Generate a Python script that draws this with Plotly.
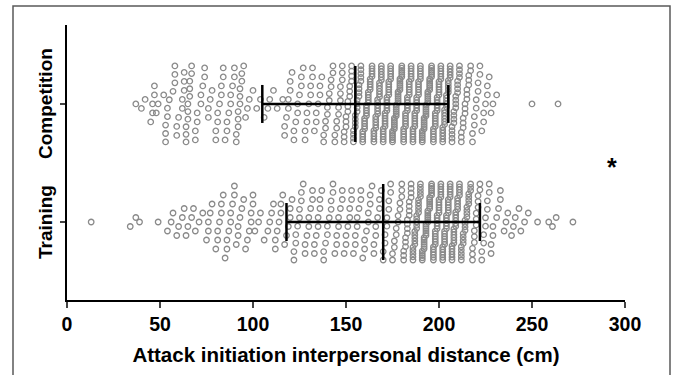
import plotly.graph_objects as go

# ---------------- data ----------------
group_names = ["Training", "Competition"]

# Competition: distance value (cm) and number of attacks at that value
comp_cm = [37, 40, 42, 45, 46, 47, 48, 49, 52, 53, 54, 55, 57, 58, 59, 60,
           62, 63, 64, 65, 66, 67, 69, 70, 72, 73, 74, 76, 77, 78,
           80, 81, 82, 83, 84, 85, 86, 87, 88, 89, 90, 91, 92, 93, 94, 95, 96, 97, 98, 100,
           102, 104, 106, 108, 109, 111, 113, 116, 117, 118, 119, 120, 121, 122, 123, 124, 125,
           126, 127, 128, 129, 130, 131, 132, 133, 134, 135, 136, 137, 138, 139, 140, 141, 142, 143,
           144, 145, 146, 147, 148, 149, 150, 151, 152, 153, 154, 155,
           156, 157, 158, 159, 160, 161, 162, 163, 164, 165,
           166, 167, 168, 169, 170, 171, 172, 173, 174, 175,
           176, 177, 178, 179, 180, 181, 182, 183, 184, 185,
           186, 187, 188, 189, 190, 191, 192, 193, 194, 195,
           196, 197, 198, 199, 200, 201, 202, 203, 204, 205,
           206, 207, 208, 209, 210, 211, 212, 213, 214, 215, 216, 217, 218, 219, 220,
           221, 222, 223, 224, 225, 226, 227, 228, 229, 231, 250, 264]
comp_n = [1, 1, 1, 1, 2, 2, 1, 1, 1, 3, 2, 1, 1, 3, 2, 1,
          2, 3, 3, 3, 3, 2, 2, 2, 2, 1, 2, 2, 1, 1,
          2, 2, 1, 2, 2, 1, 2, 1, 2, 1, 2, 2, 3, 3, 2, 1, 1, 1, 1, 1,
          1, 1, 1, 1, 1, 1, 1, 1, 2, 1, 2, 2, 1, 2, 1, 2, 1,
          2, 1, 2, 2, 1, 2, 2, 1, 2, 1, 2, 1, 2, 2, 2, 2, 2, 2,
          2, 2, 2, 3, 3, 3, 3, 3, 3, 4, 4, 4,
          4, 4, 5, 5, 5, 5, 5, 5, 5, 5,
          5, 6, 6, 6, 6, 6, 6, 6, 6, 6,
          6, 6, 6, 6, 6, 6, 6, 6, 6, 6,
          6, 6, 6, 6, 6, 6, 6, 6, 6, 6,
          6, 6, 6, 6, 6, 6, 6, 6, 5, 5,
          5, 5, 4, 4, 4, 4, 3, 3, 3, 3, 3, 2, 2, 2, 2,
          2, 2, 1, 2, 1, 2, 1, 1, 1, 1, 1, 1]

# Training
train_cm = [13, 34, 37, 39, 49, 54, 56, 57, 59, 60, 62, 63, 64, 65, 67, 68, 69,
            71, 73, 75, 76, 77, 78, 80, 81, 82, 83, 84, 85, 86, 87, 88, 89,
            90, 91, 92, 93, 94, 95, 96, 97, 98, 99, 100, 101, 103, 104, 106, 108, 109,
            110, 111, 112, 113, 114, 115, 116, 117, 118, 119,
            120, 121, 122, 123, 124, 125, 126, 127, 128, 129,
            130, 131, 132, 133, 134, 135, 136, 137, 138, 139,
            140, 141, 142, 143, 144, 145, 146, 147, 148, 149,
            150, 151, 152, 153, 154, 155, 156, 157, 158, 159,
            160, 161, 162, 163, 164, 165, 166, 167, 168, 169,
            170, 171, 172, 173, 174, 175, 176, 177, 178, 179,
            180, 181, 182, 183, 184, 185, 186, 187, 188, 189,
            190, 191, 192, 193, 194, 195, 196, 197, 198, 199,
            200, 201, 202, 203, 204, 205, 206, 207, 208, 209,
            210, 211, 212, 213, 214, 215, 216, 217, 218, 219,
            220, 221, 222, 223, 224, 225, 226, 227, 228, 229,
            231, 232, 233, 235, 236, 237, 239, 240, 241, 243, 244, 246, 248,
            253, 259, 261, 263, 272]
train_n = [1, 1, 1, 1, 1, 1, 1, 1, 1, 1, 1, 1, 1, 1, 1, 1, 1,
           1, 1, 1, 2, 1, 1, 1, 2, 1, 2, 1, 1, 2, 1, 2, 1,
           2, 1, 2, 1, 1, 1, 1, 1, 1, 2, 2, 1, 1, 1, 1, 1, 1,
           1, 1, 2, 1, 1, 2, 1, 1, 1, 1,
           2, 1, 2, 2, 1, 2, 2, 1, 2, 1,
           2, 1, 2, 2, 1, 2, 2, 1, 2, 1,
           2, 1, 2, 2, 1, 2, 2, 1, 2, 1,
           2, 1, 2, 2, 1, 2, 2, 1, 2, 1,
           2, 1, 2, 2, 1, 2, 2, 1, 2, 1,
           2, 2, 2, 2, 2, 2, 2, 2, 2, 2,
           3, 3, 3, 4, 4, 4, 5, 5, 5, 5,
           5, 5, 6, 6, 6, 6, 6, 6, 6, 6,
           6, 6, 6, 6, 6, 6, 6, 6, 6, 6,
           5, 5, 5, 4, 4, 4, 4, 3, 3, 3,
           3, 3, 2, 2, 2, 2, 2, 2, 2, 2,
           1, 1, 2, 1, 1, 1, 1, 1, 1, 1, 1, 1, 1,
           1, 1, 1, 1, 1]

# mean and SD (error bars)
comp_mean, comp_sd = 155, 50
train_mean, train_sd = 170, 52

x_ticks = [0, 50, 100, 150, 200, 250, 300]
x_title = "Attack initiation interpersonal distance (cm)"

# ---------------- layout geometry ----------------
W, H = 675, 375
M_L, M_R, M_T, M_B = 67, 50, 25, 75
X_RANGE = [0, 300]
Y_RANGE = [0.339, 2.669]
plot_w = W - M_L - M_R
plot_h = H - M_T - M_B
px_per_y = plot_h / (Y_RANGE[1] - Y_RANGE[0])

BIN_CM = 5.3      # width of a swarm column (cm)
STEP_PX = 9.0     # default vertical spacing of dots in a column
SPAN_PX = 76.0    # max vertical spread of a column


def swarm(values, counts, center):
    pts = []
    for v, c in zip(values, counts):
        pts += [v] * c
    pts.sort()
    bins = {}
    for v in pts:
        bins.setdefault(int(v // BIN_CM), []).append(v)
    xs, ys = [], []
    for b in sorted(bins):
        vs = bins[b]
        n = len(vs)
        s = STEP_PX if n < 2 else min(STEP_PX, SPAN_PX / (n - 1))
        for k, v in enumerate(vs):
            xs.append(v)
            ys.append(center + (k - (n - 1) / 2) * s / px_per_y)
    return xs, ys


fig = go.Figure()
marker = dict(symbol="circle-open", size=5.5, color="#8a8a8a", line=dict(width=1.3))

for center, vals, cnts in [(1, train_cm, train_n), (2, comp_cm, comp_n)]:
    xs, ys = swarm(vals, cnts, center)
    fig.add_trace(go.Scatter(x=xs, y=ys, mode="markers", marker=marker,
                             hoverinfo="skip", showlegend=False))

MEAN_HALF = 38 / px_per_y
CAP_HALF = 19 / px_per_y
for center, m, sd in [(1, train_mean, train_sd), (2, comp_mean, comp_sd)]:
    ex = [m - sd, m + sd, None, m, m, None, m - sd, m - sd, None, m + sd, m + sd]
    ey = [center, center, None, center - MEAN_HALF, center + MEAN_HALF, None,
          center - CAP_HALF, center + CAP_HALF, None, center - CAP_HALF, center + CAP_HALF]
    fig.add_trace(go.Scatter(x=ex, y=ey, mode="lines",
                             line=dict(color="black", width=2.5),
                             hoverinfo="skip", showlegend=False))

font_fam = "Liberation Sans, Arial, sans-serif"

fig.update_layout(
    width=W, height=H,
    margin=dict(l=M_L, r=M_R, t=M_T, b=M_B),
    paper_bgcolor="white", plot_bgcolor="white",
    font=dict(family=font_fam, color="black"),
    xaxis=dict(range=X_RANGE, tickvals=x_ticks, ticks="outside", ticklen=6, tickwidth=2,
               showline=True, linewidth=2, linecolor="black", showgrid=False, zeroline=False,
               tickfont=dict(size=19.5, family=font_fam, weight="bold"),
               title=dict(text=f"<b>{x_title}</b>", font=dict(size=20.5), standoff=13)),
    yaxis=dict(range=Y_RANGE, tickvals=[1, 2], ticks="outside", ticklen=5, tickwidth=2,
               showticklabels=False, showline=True, linewidth=2, linecolor="black",
               showgrid=False, zeroline=False),
)

for center, name in zip([1, 2], group_names):
    fig.add_annotation(text=f"<b>{name}</b>", textangle=-90, xref="paper", yref="y",
                       x=(46 - M_L) / plot_w, y=center, xanchor="center", yanchor="middle",
                       showarrow=False, font=dict(size=19, family=font_fam))

fig.add_annotation(text="<b>*</b>", xref="x", yref="y", x=293, y=1.5, showarrow=False,
                   font=dict(size=25, family=font_fam), yshift=-4)

# outer frame of the figure
fig.add_shape(type="rect", xref="paper", yref="paper",
              x0=(13 - M_L) / plot_w, x1=(670 - M_L) / plot_w,
              y0=(M_T + plot_h - 380) / plot_h, y1=(M_T + plot_h - 6) / plot_h,
              line=dict(color="#5a5a5a", width=1.5), layer="below")

fig.write_html("out.html")
